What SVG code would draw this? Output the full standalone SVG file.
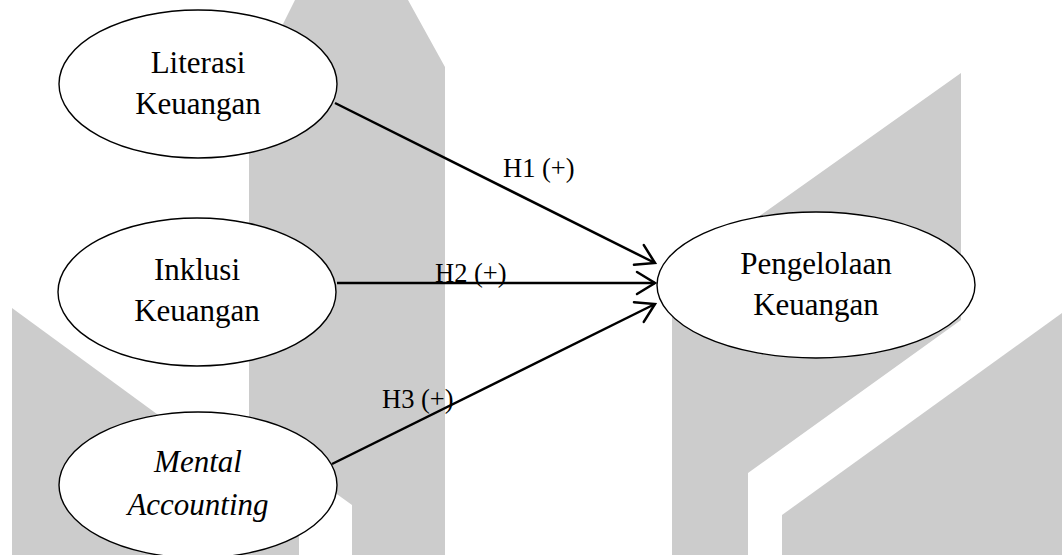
<svg xmlns="http://www.w3.org/2000/svg" width="1062" height="555" viewBox="0 0 1062 555">
  <style>
    .bg { fill: #cccccc; stroke: none; }
    .node ellipse { fill: #ffffff; stroke: #000000; stroke-width: 1.4; }
    .node text { font-family: "Liberation Serif", "Times New Roman", serif; font-size: 31px; fill: #000000; text-anchor: middle; }
    .edge line { stroke: #000000; stroke-width: 2.5; fill: none; marker-end: url(#arrow); }
    .label { font-family: "Liberation Serif", "Times New Roman", serif; font-size: 26.5px; fill: #000000; }
  </style>
  <defs>
    <marker id="arrow" markerUnits="userSpaceOnUse" markerWidth="26" markerHeight="28" refX="22" refY="13" orient="auto" viewBox="0 0 26 28">
      <path d="M4,2 L22,13 L4,24" fill="none" stroke="#000000" stroke-width="2.5" stroke-linecap="round" stroke-linejoin="miter"/>
    </marker>
  </defs>
  <rect x="0" y="0" width="1062" height="555" fill="#ffffff"/>
  <g id="watermark">
    <polygon class="bg" points="295,0 408,0 445,67 445,555 352,555 352,505 249,431 249,92"/>
    <polygon class="bg" points="12,308 299,518 299,555 12,555"/>
    <polygon class="bg" points="672,278 961,73 961,320 748,473 748,555 672,555"/>
    <polygon class="bg" points="782,515 1062,313 1062,555 782,555"/>
  </g>
  <g id="connectors" class="edge">
    <line x1="335" y1="103" x2="655" y2="263"/>
    <line x1="337" y1="283" x2="655" y2="283"/>
    <line x1="332" y1="464" x2="655" y2="304"/>
  </g>
  <g id="labels">
    <text class="label" x="503" y="177">H1 (+)</text>
    <text class="label" x="435" y="282">H2 (+)</text>
    <text class="label" x="382" y="408">H3 (+)</text>
  </g>
  <g id="node-literasi" class="node">
    <ellipse cx="198" cy="84" rx="139" ry="74"/>
    <text x="198" y="73">Literasi</text>
    <text x="198" y="114">Keuangan</text>
  </g>
  <g id="node-inklusi" class="node">
    <ellipse cx="197" cy="292" rx="139" ry="74"/>
    <text x="197" y="280">Inklusi</text>
    <text x="197" y="321">Keuangan</text>
  </g>
  <g id="node-mental" class="node">
    <ellipse cx="198" cy="485" rx="139" ry="73"/>
    <text x="198" y="472" font-style="italic">Mental</text>
    <text x="198" y="515" font-style="italic">Accounting</text>
  </g>
  <g id="node-pengelolaan" class="node">
    <ellipse cx="816" cy="285" rx="159" ry="73"/>
    <text x="816" y="274">Pengelolaan</text>
    <text x="816" y="315">Keuangan</text>
  </g>
</svg>
